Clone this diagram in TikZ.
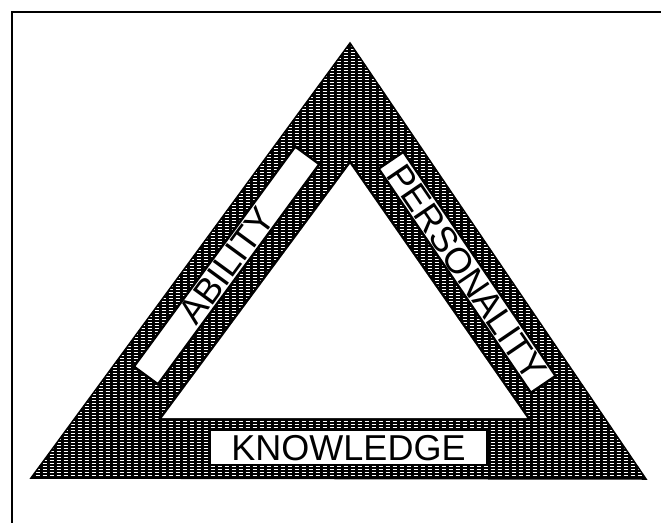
\documentclass[tikz,border=0pt]{standalone}
\usepackage{fontspec}
\setmainfont{Liberation Sans}
\setsansfont{Liberation Sans}
\usetikzlibrary{patterns.meta}
\tikzdeclarepattern{
  name=halftone,
  type=uncolored,
  bounding box={(-0.5pt,-0.5pt) and (7.5pt,3.5pt)},
  tile size={(7pt,3pt)},
  code={\draw[line width=0.9pt] (0.5pt,1.5pt) -- (5pt,1.5pt);}
}
\begin{document}
\begin{tikzpicture}[x=1pt,y=-1pt,
  labelbox/.style={draw=black, line width=2.5pt, fill=white, inner sep=0pt,
    font=\fontsize{36}{40}\selectfont, text depth=0pt},
  frameline/.style={line width=1.6pt, line cap=rect}]
\useasboundingbox (0,0) rectangle (661,522);
% frame
\coordinate (f1) at (12,522);
\coordinate (f2) at (12,12);
\coordinate (f3) at (661,12);
\draw[frameline] (f1) -- (f2) -- (f3);
% triangle corners
\coordinate (A) at (350,43);
\coordinate (L) at (31,478);
\coordinate (R) at (646,479);
\coordinate (a) at (350,164);
\coordinate (l) at (162,418);
\coordinate (r) at (527,418);
% shaded band
\fill[black, even odd rule] (A) -- (L) -- (R) -- cycle (a) -- (l) -- (r) -- cycle;
\fill[even odd rule, pattern=halftone, pattern color=white]
  (A) -- (L) -- (R) -- cycle (a) -- (l) -- (r) -- cycle;
\draw[line width=1.5pt, line join=miter] (A) -- (L) -- (R) -- cycle;
\draw[line width=5pt, line join=miter] (a) -- (l) -- (r) -- cycle;
\fill[white] (a) -- (l) -- (r) -- cycle;
% labels
\node[labelbox, rotate=53.75, minimum width=273pt, minimum height=30pt]
  (ability) at (226.6,265.4) {ABILITY};
\node[labelbox, rotate=-55.8, minimum width=271pt, minimum height=30pt]
  (personality) at (467.1,272.3) {PERSONALITY};
\node[labelbox, minimum width=277pt, minimum height=35pt]
  (knowledge) at (348.5,447.5) {KNOWLEDGE};
\end{tikzpicture}
\end{document}
